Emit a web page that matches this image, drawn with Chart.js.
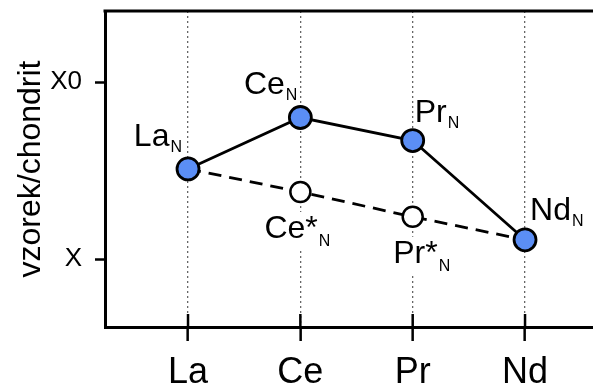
<!DOCTYPE html>
<html>
<head>
<meta charset="utf-8">
<script src="https://cdn.jsdelivr.net/npm/chart.js@4"></script>
<style>
  html, body { margin: 0; padding: 0; background: #fff; }
</style>
</head>
<body>
<canvas id="chart" width="593" height="390"></canvas>
<script>
const elements = ["La", "Ce", "Pr", "Nd"];
const positions = [0, 1, 2, 3];
const normalized = [0.51, 0.80, 0.67, 0.11];
const interpolated = [0.51, 0.38, 0.24, 0.11];
const yTickValues = [0, 1];
const yTickLabels = ["X", "X0"];
const yTitle = "vzorek/chondrit";

const FONT = "'Liberation Sans', Arial, Helvetica, sans-serif";

// label placement around the points (offsets in px)
const measuredPlace = [
    { dx: -6, dy: -23, align: "right", sub: 6.5 },
    { dx: -3, dy: -24, align: "right", sub: 6.5 },
    { dx: 2, dy: -19, align: "left", sub: 6.5 },
    { dx: 5, dy: -20, align: "left", sub: 6.5 },
];
const starPlace = [
    null,
    { dx: -3, dy: 46, align: "center", sub: 8.5 },
    { dx: 9, dy: 46, align: "center", sub: 8.5 },
    null,
];

const labelBox = (ctx, text, x, y, align) => {
    ctx.font = "32px " + FONT;
    const wMain = ctx.measureText(text).width;
    ctx.font = "16px " + FONT;
    const wSub = ctx.measureText("N").width;
    const total = wMain + 1 + wSub;
    let x0 = x;
    if (align === "right") x0 = x - total;
    if (align === "center") x0 = x - total / 2;
    return { x0, wMain, wSub, total };
};

const drawLabel = (ctx, text, x, y, align, sub) => {
    const b = labelBox(ctx, text, x, y, align);
    ctx.save();
    ctx.fillStyle = "#000";
    ctx.textAlign = "left";
    ctx.textBaseline = "alphabetic";
    ctx.font = "32px " + FONT;
    ctx.fillText(text, b.x0, y);
    ctx.font = "16px " + FONT;
    ctx.fillText("N", b.x0 + b.wMain + 1, y + sub);
    ctx.restore();
};

const annotations = {
    id: "annotations",
    beforeDatasetsDraw: (chart) => {
        const ctx = chart.ctx;
        const area = chart.chartArea;
        const xScale = chart.scales.x;
        // inner part of the x ticks
        ctx.save();
        ctx.strokeStyle = "#000";
        ctx.lineWidth = 2.5;
        positions.forEach((v) => {
            const px = xScale.getPixelForValue(v);
            ctx.beginPath();
            ctx.moveTo(px, area.bottom - 13);
            ctx.lineTo(px, area.bottom);
            ctx.stroke();
        });
        ctx.restore();
        // white background behind the starred labels
        const starMeta = chart.getDatasetMeta(1);
        ctx.save();
        ctx.fillStyle = "#fff";
        starPlace.forEach((p, i) => {
            if (!p) return;
            const pt = starMeta.data[i];
            const x = pt.x + p.dx;
            const y = pt.y + p.dy;
            const b = labelBox(ctx, elements[i] + "*", x, y, p.align);
            ctx.fillRect(b.x0 - 3, y - 26, b.total + 6, 37);
        });
        ctx.restore();
    },
    afterDatasetsDraw: (chart) => {
        const ctx = chart.ctx;
        const mainMeta = chart.getDatasetMeta(0);
        const starMeta = chart.getDatasetMeta(1);
        measuredPlace.forEach((p, i) => {
            const pt = mainMeta.data[i];
            drawLabel(ctx, elements[i], pt.x + p.dx, pt.y + p.dy, p.align, p.sub);
        });
        starPlace.forEach((p, i) => {
            if (!p) return;
            const pt = starMeta.data[i];
            drawLabel(ctx, elements[i] + "*", pt.x + p.dx, pt.y + p.dy, p.align, p.sub);
        });
    },
    afterDraw: (chart) => {
        const ctx = chart.ctx;
        const area = chart.chartArea;
        ctx.save();
        ctx.strokeStyle = "#000";
        ctx.lineWidth = 3;
        ctx.beginPath();
        ctx.moveTo(area.left - 1.5, area.top);
        ctx.lineTo(area.right, area.top);
        ctx.stroke();
        ctx.restore();
    },
};

new Chart(document.getElementById("chart").getContext("2d"), {
    type: "line",
    data: {
        datasets: [
            {
                data: positions.map((x, i) => ({ x, y: normalized[i] })),
                borderColor: "#000",
                borderWidth: 2.8,
                pointRadius: 11,
                pointBorderWidth: 2.8,
                pointBorderColor: "#000",
                pointBackgroundColor: "#5b8ef5",
                tension: 0,
            },
            {
                data: positions.map((x, i) => ({ x, y: interpolated[i] })),
                borderColor: "#000",
                borderWidth: 2.8,
                borderDash: [13, 8],
                pointRadius: [0, 10, 10, 0],
                pointBorderWidth: 2.5,
                pointBorderColor: "#000",
                pointBackgroundColor: "#fff",
                tension: 0,
            },
        ],
    },
    options: {
        responsive: false,
        animation: false,
        events: [],
        layout: { autoPadding: false, padding: { top: 11, left: 0, right: 0, bottom: 0 } },
        plugins: {
            legend: { display: false },
            tooltip: { enabled: false },
        },
        scales: {
            x: {
                type: "linear",
                min: -0.739,
                max: 3.605,
                afterBuildTicks: (scale) => {
                    scale.ticks = positions.map((v) => ({ value: v }));
                },
                afterFit: (scale) => {
                    scale.height = 63;
                    scale.paddingLeft = 0;
                    scale.paddingRight = 0;
                },
                grid: {
                    color: "#666",
                    lineWidth: 1.3,
                    tickLength: 14,
                    tickColor: "#000",
                    tickWidth: 2.5,
                },
                border: { color: "#000", width: 3, dash: [2, 3] },
                ticks: {
                    callback: (v) => elements[v],
                    color: "#000",
                    font: { family: FONT, size: 36 },
                    padding: 10,
                    maxRotation: 0,
                    autoSkip: false,
                },
            },
            y: {
                type: "linear",
                min: -0.382,
                max: 1.401,
                afterBuildTicks: (scale) => {
                    scale.ticks = yTickValues.map((v) => ({ value: v }));
                },
                afterFit: (scale) => {
                    scale.width = 105;
                    scale.paddingTop = 0;
                    scale.paddingBottom = 0;
                },
                grid: {
                    drawOnChartArea: false,
                    tickLength: 10,
                    tickColor: "#000",
                    tickWidth: 2.5,
                },
                border: { color: "#000", width: 3 },
                ticks: {
                    callback: (v) => yTickLabels[yTickValues.indexOf(v)],
                    color: "#000",
                    font: { family: FONT, size: 26 },
                    padding: 13,
                },
                title: {
                    display: true,
                    text: yTitle,
                    color: "#000",
                    font: { family: FONT, size: 32 },
                    padding: { top: 12, bottom: 0 },
                },
            },
        },
    },
    plugins: [annotations],
});
</script>
</body>
</html>
